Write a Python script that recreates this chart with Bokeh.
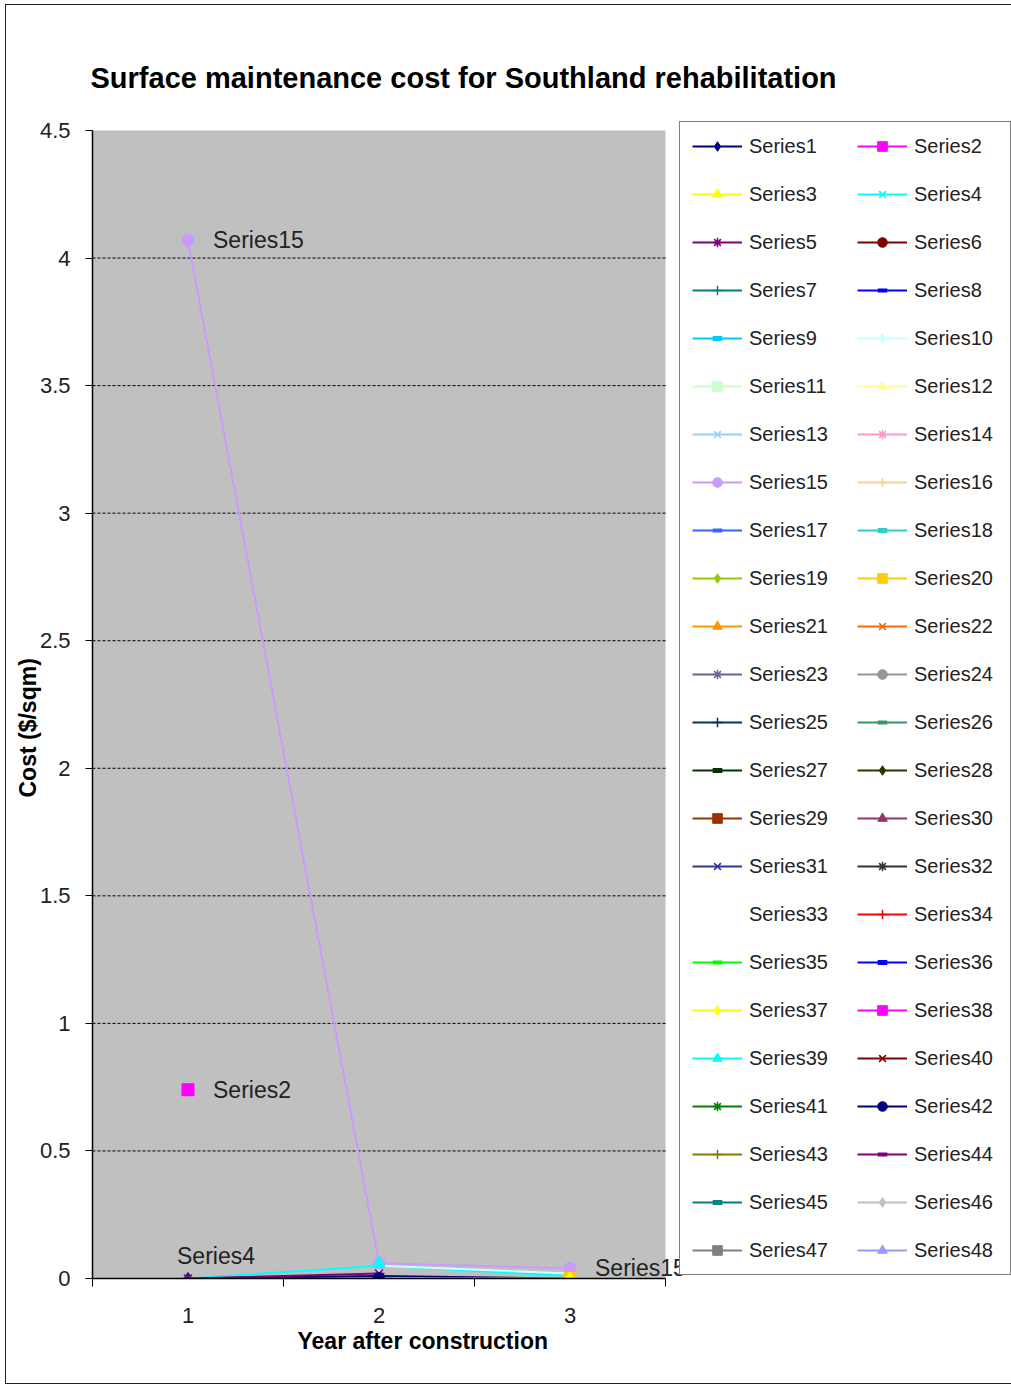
import math
from bokeh.plotting import figure
from bokeh.models import Legend, LegendItem, FixedTicker, Label, Range1d, Title, BoxAnnotation
from bokeh.embed import file_html
from bokeh.resources import INLINE

nan = float("nan")

# ---------------- data ----------------
years = [1, 2, 3]
year_labels = ["1", "2", "3"]
y_ticks = [0, 0.5, 1, 1.5, 2, 2.5, 3, 3.5, 4, 4.5]
y_tick_labels = ["0", "0.5", "1", "1.5", "2", "2.5", "3", "3.5", "4", "4.5"]

series1 = [0.0, 0.01, 0.0]
series2 = [0.74, nan, nan]
series3 = [nan, 0.0, 0.0]
series4 = [0.0, 0.05, 0.01]
series5 = [0.0, 0.02, nan]
series10 = [nan, 0.05, 0.02]
series15 = [4.07, 0.06, 0.04]
series20 = [nan, nan, 0.0]
series37 = [nan, nan, 0.0]
series39 = [nan, 0.06, nan]
series42 = [nan, 0.0, nan]
empty = [nan, nan, nan]

known = {
    "Series1": series1, "Series2": series2, "Series3": series3, "Series4": series4,
    "Series5": series5, "Series10": series10, "Series15": series15,
    "Series20": series20, "Series37": series37, "Series39": series39, "Series42": series42,
}
series_names = ["Series%d" % i for i in range(1, 49)]

series_colors = [
    "#000080", "#FF00FF", "#FFFF00", "#00FFFF", "#800080", "#800000", "#008080", "#0000FF",
    "#00CCFF", "#CCFFFF", "#CCFFCC", "#FFFF99", "#99CCFF", "#FF99CC", "#CC99FF", "#FFCC99",
    "#3366FF", "#33CCCC", "#99CC00", "#FFCC00", "#FF9900", "#FF6600", "#666699", "#969696",
    "#003366", "#339966", "#003300", "#333300", "#993300", "#993366", "#333399", "#333333",
    "#FFFFFF", "#FF0000", "#00FF00", "#0000FF", "#FFFF00", "#FF00FF", "#00FFFF", "#800000",
    "#008000", "#000080", "#808000", "#800080", "#008080", "#C0C0C0", "#808080", "#9999FF",
]
marker_cycle = ["diamond", "square", "triangle", "x", "asterisk", "circle", "cross", "dot", "dash"]

# data labels (series name, category index)
data_labels = [("Series15", 0), ("Series2", 0), ("Series4", 0), ("Series15", 2)]

title_text = "Surface maintenance  cost for Southland  rehabilitation"
x_title = "Year after construction"
y_title = "Cost ($/sqm)"

FONT = "Liberation Sans"

# ---------------- layout (page pixels) ----------------
OX, OY = 6, 5                 # figure offset on the page
W, H = 1011 - OX, 1383 - OY   # canvas size
PLOT_L, PLOT_R, PLOT_T, PLOT_B = 92, 665, 130, 1278   # grey plot area
FRAME_R, FRAME_T = 1011, 120                          # frame (includes legend area)
x_lo, x_hi = 0.5, 3.5
y_lo, y_hi = 0.0, 4.5
px_x = (PLOT_R - PLOT_L) / (x_hi - x_lo)
px_y = (PLOT_B - PLOT_T) / (y_hi - y_lo)
x_end = x_hi + (FRAME_R - PLOT_R) / px_x
y_end = y_hi + (PLOT_T - FRAME_T) / px_y

p = figure(width=W, height=H,
           x_range=Range1d(x_lo, x_end), y_range=Range1d(y_lo, y_end),
           output_backend="svg", toolbar_location=None,
           min_border_left=PLOT_L - OX, min_border_right=(OX + W) - FRAME_R,
           min_border_top=FRAME_T - OY, min_border_bottom=(OY + H) - PLOT_B,
           background_fill_color="white", border_fill_color="white",
           outline_line_color=None)
p.margin = (OY, 0, 0, OX)
p.styles = {"outline": "1px solid #222222"}

# grey plot area
p.add_layout(BoxAnnotation(left=x_lo, right=x_hi, bottom=y_lo, top=y_hi,
                           fill_color="#C0C0C0", fill_alpha=1.0, line_color=None,
                           level="underlay"))

# title
p.title.text = title_text
p.title.align = "left"
p.title.offset = -2
p.title.standoff = 54
p.title.text_font = FONT
p.title.text_font_size = "29px"
p.title.text_font_style = "bold"
p.title.text_color = "black"

# axes
p.xaxis.bounds = (x_lo, x_hi)
p.xaxis.ticker = FixedTicker(ticks=years, minor_ticks=[0.5, 1.5, 2.5, 3.5])
p.xaxis.major_label_overrides = {y: l for y, l in zip(years, year_labels)}
p.xaxis.major_tick_line_color = None
p.xaxis.major_tick_out = 8
p.xaxis.major_tick_in = 0
p.xaxis.minor_tick_line_color = "black"
p.xaxis.minor_tick_out = 8
p.xaxis.minor_tick_in = 0
p.xaxis.major_label_standoff = 21
p.xaxis.axis_line_color = "black"
p.xaxis.axis_line_width = 1.5

overrides = {}
for v, l in zip(y_ticks, y_tick_labels):
    k = int(v) if float(v).is_integer() else v
    overrides[k] = l
p.yaxis.bounds = (y_lo, y_hi)
p.yaxis.ticker = FixedTicker(ticks=y_ticks)
p.yaxis.major_label_overrides = overrides
p.yaxis.major_tick_out = 7
p.yaxis.major_tick_in = 0
p.yaxis.minor_tick_line_color = None
p.yaxis.major_label_standoff = 15
p.yaxis.axis_line_color = "black"
p.yaxis.axis_line_width = 1.5

for ax in (p.xaxis, p.yaxis):
    ax.major_label_text_font = FONT
    ax.major_label_text_font_size = "22px"
    ax.major_label_text_color = "#222222"

p.xgrid.visible = False
p.ygrid.visible = False
grid_vals = y_ticks[1:-1]
p.segment(x0=[x_lo] * len(grid_vals), x1=[x_hi] * len(grid_vals), y0=grid_vals, y1=grid_vals,
          line_color="black", line_dash="3 2", line_width=1)

# axis titles as side titles
p.add_layout(Title(text=x_title, align="left", offset=205, standoff=0,
                   text_font=FONT, text_font_size="23px", text_font_style="bold",
                   text_color="black"), "below")
p.add_layout(Title(text=y_title, align="left", offset=481, standoff=-8,
                   text_font=FONT, text_font_size="23px", text_font_style="bold",
                   text_color="black"), "left")

# series
items = {}
for i, name in enumerate(series_names):
    vals = known.get(name, empty)
    col = series_colors[i]
    mk = marker_cycle[i % 9]
    lr = p.line(years, vals, line_color=col, line_width=2)
    if mk == "dot":
        sr = p.scatter(years, vals, marker="dash", size=7, line_color=col, line_width=4)
    elif mk == "dash":
        sr = p.scatter(years, vals, marker="dash", size=10, line_color=col, line_width=5)
    elif mk in ("x", "asterisk", "cross"):
        sr = p.scatter(years, vals, marker=mk, size=11, line_color=col, line_width=1.5)
    else:
        sr = p.scatter(years, vals, marker=mk, size=12, fill_color=col, line_color=col)
    items[name] = LegendItem(label=name, renderers=[lr, sr])

# data labels
for name, idx in data_labels:
    vals = known[name]
    if name == "Series4":
        lab = Label(x=years[idx], y=vals[idx], text=name, x_offset=-11, y_offset=10,
                    text_baseline="bottom", text_align="left")
    else:
        lab = Label(x=years[idx], y=vals[idx], text=name, x_offset=25,
                    text_baseline="middle", text_align="left")
    lab.text_font = FONT
    lab.text_font_size = "23px"
    lab.text_color = "#222222"
    p.add_layout(lab)

# legend: two columns, row-major reading order (odd series left, even right)
ordered = [items[n] for n in series_names[0::2]] + [items[n] for n in series_names[1::2]]
legend = Legend(items=ordered, ncols=2, location=(679 - PLOT_L, PLOT_B - 1275),
                glyph_width=50, glyph_height=24, label_height=24, label_width=84,
                label_standoff=7, spacing=24, padding=12, margin=0,
                label_text_font=FONT, label_text_font_size="20px",
                label_text_color="#222222",
                border_line_color="black", border_line_width=1,
                background_fill_color="white", background_fill_alpha=1.0)
p.add_layout(legend)

open("out.html", "w").write(file_html(p, INLINE))
